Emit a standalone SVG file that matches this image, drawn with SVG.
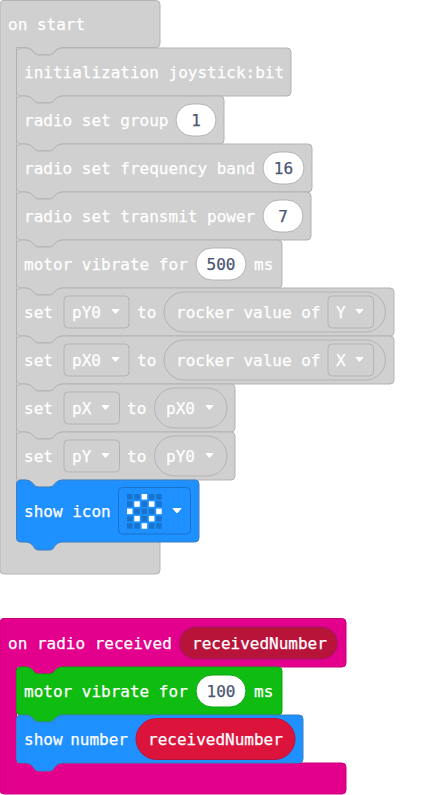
<svg xmlns="http://www.w3.org/2000/svg" width="446" height="795" viewBox="0 0 446 795">
<style>
text{font-family:"DejaVu Sans Mono","Liberation Mono",monospace;font-size:16px;fill:#fff;stroke:#fff;stroke-width:.25;dominant-baseline:central}
.c{text-anchor:middle}
.g{fill:#d0d0d0;stroke:#b3b3b3;stroke-width:1}
.gi{fill:#d0d0d0;stroke:#b3b3b3;stroke-width:1}
.v{fill:#fff;stroke:#b3b3b3;stroke-width:1}
text.n{fill:#4c5675;stroke:#4c5675}
.a{fill:#fff;stroke:#fff;stroke-width:1;stroke-linejoin:round}
.o{fill:#1873cc}
.on{fill:#fff}
</style>
<g id="on-start">
<path class="g" d="M4,0.500H156a4,4 0 0 1 4,4V43.500a4,4 0 0 1 -4,4H62Q58,47.500 55,51Q53,55 50,55H38Q35,55 33,51Q30,47.500 26,47.500H16.500V527.500H156a4,4 0 0 1 4,4V570a4,4 0 0 1 -4,4H4a4,4 0 0 1 -4,-4V4.500a4,4 0 0 1 4,-4Z"/>
<text x="8" y="24">on start</text>
</g>
<g id="init">
<path class="g" d="M16.500,52a4,4 0 0 1 4,-4H26Q30,48 33,51.500Q35,55 38,55H50Q53,55 55,51.500Q58,48 62,48H287a4,4 0 0 1 4,4V92a4,4 0 0 1 -4,4H62Q58,96 55,99.500Q53,103 50,103H38Q35,103 33,99.500Q30,96 26,96H20.500a4,4 0 0 1 -4,-4Z"/>
<text x="24" y="72">initialization joystick:bit</text>
</g>
<g id="group">
<path class="g" d="M16.500,100a4,4 0 0 1 4,-4H26Q30,96 33,99.500Q35,103 38,103H50Q53,103 55,99.500Q58,96 62,96H220a4,4 0 0 1 4,4V140a4,4 0 0 1 -4,4H62Q58,144 55,147.500Q53,151 50,151H38Q35,151 33,147.500Q30,144 26,144H20.500a4,4 0 0 1 -4,-4Z"/>
<text x="24" y="120">radio set group</text>
<rect class="v" x="176" y="104" width="40" height="32" rx="16"/>
<text class="n c" x="196" y="120">1</text>
</g>
<g id="band">
<path class="g" d="M16.500,148a4,4 0 0 1 4,-4H26Q30,144 33,147.500Q35,151 38,151H50Q53,151 55,147.500Q58,144 62,144H308a4,4 0 0 1 4,4V188a4,4 0 0 1 -4,4H62Q58,192 55,195.500Q53,199 50,199H38Q35,199 33,195.500Q30,192 26,192H20.500a4,4 0 0 1 -4,-4Z"/>
<text x="24" y="168">radio set frequency band</text>
<rect class="v" x="263" y="152" width="41" height="32" rx="16"/>
<text class="n c" x="283.500" y="168">16</text>
</g>
<g id="power">
<path class="g" d="M16.500,196a4,4 0 0 1 4,-4H26Q30,192 33,195.500Q35,199 38,199H50Q53,199 55,195.500Q58,192 62,192H307a4,4 0 0 1 4,4V236a4,4 0 0 1 -4,4H62Q58,240 55,243.500Q53,247 50,247H38Q35,247 33,243.500Q30,240 26,240H20.500a4,4 0 0 1 -4,-4Z"/>
<text x="24" y="216">radio set transmit power</text>
<rect class="v" x="263" y="200" width="40" height="32" rx="16"/>
<text class="n c" x="283" y="216">7</text>
</g>
<g id="vibrate500">
<path class="g" d="M16.500,244a4,4 0 0 1 4,-4H26Q30,240 33,243.500Q35,247 38,247H50Q53,247 55,243.500Q58,240 62,240H278a4,4 0 0 1 4,4V284a4,4 0 0 1 -4,4H62Q58,288 55,291.500Q53,295 50,295H38Q35,295 33,291.500Q30,288 26,288H20.500a4,4 0 0 1 -4,-4Z"/>
<text x="24" y="264">motor vibrate for</text>
<rect class="v" x="196" y="248" width="50" height="32" rx="16"/>
<text class="n c" x="221" y="264">500</text>
<text x="254" y="264">ms</text>
</g>
<g id="set-pY0">
<path class="g" d="M16.500,292a4,4 0 0 1 4,-4H26Q30,288 33,291.500Q35,295 38,295H50Q53,295 55,291.500Q58,288 62,288H390a4,4 0 0 1 4,4V332a4,4 0 0 1 -4,4H62Q58,336 55,339.500Q53,343 50,343H38Q35,343 33,339.500Q30,336 26,336H20.500a4,4 0 0 1 -4,-4Z"/>
<text x="24" y="312">set</text>
<rect class="gi" x="64" y="296" width="65" height="32" rx="4"/>
<text x="72" y="312">pY0</text>
<path class="a" d="M112,309.500H119L115.500,313.500Z"/>
<text x="137" y="312">to</text>
<rect class="gi" x="164" y="292" width="221.500" height="40" rx="20"/>
<text x="176" y="312">rocker value of</text>
<rect class="gi" x="328" y="296" width="45.500" height="32" rx="4"/>
<text x="336" y="312">Y</text>
<path class="a" d="M356,309.500H363L359.500,313.500Z"/>
</g>
<g id="set-pX0">
<path class="g" d="M16.500,340a4,4 0 0 1 4,-4H26Q30,336 33,339.500Q35,343 38,343H50Q53,343 55,339.500Q58,336 62,336H390a4,4 0 0 1 4,4V380a4,4 0 0 1 -4,4H62Q58,384 55,387.500Q53,391 50,391H38Q35,391 33,387.500Q30,384 26,384H20.500a4,4 0 0 1 -4,-4Z"/>
<text x="24" y="360">set</text>
<rect class="gi" x="64" y="344" width="65" height="32" rx="4"/>
<text x="72" y="360">pX0</text>
<path class="a" d="M112,357.500H119L115.500,361.500Z"/>
<text x="137" y="360">to</text>
<rect class="gi" x="164" y="340" width="221.500" height="40" rx="20"/>
<text x="176" y="360">rocker value of</text>
<rect class="gi" x="328" y="344" width="45.500" height="32" rx="4"/>
<text x="336" y="360">X</text>
<path class="a" d="M356,357.500H363L359.500,361.500Z"/>
</g>
<g id="set-pX">
<path class="g" d="M16.500,388a4,4 0 0 1 4,-4H26Q30,384 33,387.500Q35,391 38,391H50Q53,391 55,387.500Q58,384 62,384H231a4,4 0 0 1 4,4V428a4,4 0 0 1 -4,4H62Q58,432 55,435.500Q53,439 50,439H38Q35,439 33,435.500Q30,432 26,432H20.500a4,4 0 0 1 -4,-4Z"/>
<text x="24" y="408">set</text>
<rect class="gi" x="64" y="392" width="55.500" height="32" rx="4"/>
<text x="72" y="408">pX</text>
<path class="a" d="M102,405.500H109L105.500,409.500Z"/>
<text x="127" y="408">to</text>
<rect class="gi" x="154.500" y="388" width="72.500" height="40" rx="20"/>
<text x="166" y="408">pX0</text>
<path class="a" d="M206,405.500H213L209.500,409.500Z"/>
</g>
<g id="set-pY">
<path class="g" d="M16.500,436a4,4 0 0 1 4,-4H26Q30,432 33,435.500Q35,439 38,439H50Q53,439 55,435.500Q58,432 62,432H231a4,4 0 0 1 4,4V476a4,4 0 0 1 -4,4H62Q58,480 55,483.500Q53,487 50,487H38Q35,487 33,483.500Q30,480 26,480H20.500a4,4 0 0 1 -4,-4Z"/>
<text x="24" y="456">set</text>
<rect class="gi" x="64" y="440" width="55.500" height="32" rx="4"/>
<text x="72" y="456">pY</text>
<path class="a" d="M102,453.500H109L105.500,457.500Z"/>
<text x="127" y="456">to</text>
<rect class="gi" x="154.500" y="436" width="72.500" height="40" rx="20"/>
<text x="166" y="456">pY0</text>
<path class="a" d="M206,453.500H213L209.500,457.500Z"/>
</g>
<g id="show-icon">
<path fill="#1e90ff" stroke="#3d7fc0" stroke-width="1" d="M16.500,484a4,4 0 0 1 4,-4H26Q30,480 33,483.500Q35,487 38,487H50Q53,487 55,483.500Q58,480 62,480H195a4,4 0 0 1 4,4V538a4,4 0 0 1 -4,4H62Q58,542 55,545.500Q53,550 50,550H38Q35,550 33,545.500Q30,542 26,542H20.500a4,4 0 0 1 -4,-4Z"/>
<text x="24" y="511">show icon</text>
<rect x="118.500" y="487.500" width="72" height="46.500" rx="4" fill="#1e90ff" stroke="#1873cc"/>
<g class="o">
<rect x="127" y="494" width="5.500" height="5.500"/><rect x="134.300" y="494" width="5.500" height="5.500"/><rect x="148.900" y="494" width="5.500" height="5.500"/><rect x="156.200" y="494" width="5.500" height="5.500"/>
<rect x="127" y="501.300" width="5.500" height="5.500"/><rect x="141.600" y="501.300" width="5.500" height="5.500"/><rect x="156.200" y="501.300" width="5.500" height="5.500"/>
<rect x="134.300" y="508.600" width="5.500" height="5.500"/><rect x="141.600" y="508.600" width="5.500" height="5.500"/><rect x="148.900" y="508.600" width="5.500" height="5.500"/>
<rect x="127" y="515.900" width="5.500" height="5.500"/><rect x="141.600" y="515.900" width="5.500" height="5.500"/><rect x="156.200" y="515.900" width="5.500" height="5.500"/>
<rect x="127" y="523.200" width="5.500" height="5.500"/><rect x="134.300" y="523.200" width="5.500" height="5.500"/><rect x="148.900" y="523.200" width="5.500" height="5.500"/><rect x="156.200" y="523.200" width="5.500" height="5.500"/>
</g>
<g class="on">
<rect x="141.600" y="494" width="5.500" height="5.500"/>
<rect x="134.300" y="501.300" width="5.500" height="5.500"/><rect x="148.900" y="501.300" width="5.500" height="5.500"/>
<rect x="127" y="508.600" width="5.500" height="5.500"/><rect x="156.200" y="508.600" width="5.500" height="5.500"/>
<rect x="134.300" y="515.900" width="5.500" height="5.500"/><rect x="148.900" y="515.900" width="5.500" height="5.500"/>
<rect x="141.600" y="523.200" width="5.500" height="5.500"/>
</g>
<path class="a" d="M173,508.500H181L177,513Z"/>
</g>
<g id="on-radio">
<path fill="#e3008c" stroke="#cc007e" stroke-width="1" d="M4,618.500H342a4,4 0 0 1 4,4V663a4,4 0 0 1 -4,4H62Q58,667 55,670.500Q53,674 50,674H38Q35,674 33,670.500Q30,667 26,667H16.500V763H342a4,4 0 0 1 4,4V790a4,4 0 0 1 -4,4H4a4,4 0 0 1 -4,-4V622.500a4,4 0 0 1 4,-4Z"/>
<text x="8" y="643">on radio received</text>
<rect x="179.500" y="627" width="158" height="32" rx="16" fill="#b8143a" stroke="#a8126a"/>
<text x="192" y="643">receivedNumber</text>
</g>
<g id="vibrate100">
<path fill="#0fbc11" stroke="#0da50f" stroke-width="1" d="M16.500,671a4,4 0 0 1 4,-4H26Q30,667 33,670.500Q35,674 38,674H50Q53,674 55,670.500Q58,667 62,667H278a4,4 0 0 1 4,4V711a4,4 0 0 1 -4,4H62Q58,715 55,718.500Q53,722 50,722H38Q35,722 33,718.500Q30,715 26,715H20.500a4,4 0 0 1 -4,-4Z"/>
<text x="24" y="691">motor vibrate for</text>
<rect x="196" y="675" width="50" height="32" rx="16" fill="#fff" stroke="#0da50f"/>
<text class="n c" x="221" y="691">100</text>
<text x="254" y="691">ms</text>
</g>
<g id="show-number">
<path fill="#1e90ff" stroke="#3d7fc0" stroke-width="1" d="M16.500,719a4,4 0 0 1 4,-4H26Q30,715 33,718.500Q35,722 38,722H50Q53,722 55,718.500Q58,715 62,715H299a4,4 0 0 1 4,4V759a4,4 0 0 1 -4,4H62Q58,763 55,766.500Q53,771 50,771H38Q35,771 33,766.500Q30,763 26,763H20.500a4,4 0 0 1 -4,-4Z"/>
<text x="24" y="739" word-spacing="-2">show number</text>
<rect x="136" y="718.500" width="159" height="41" rx="20.500" fill="#dc143c" stroke="#b8143a"/>
<text x="148" y="739">receivedNumber</text>
</g>
</svg>
